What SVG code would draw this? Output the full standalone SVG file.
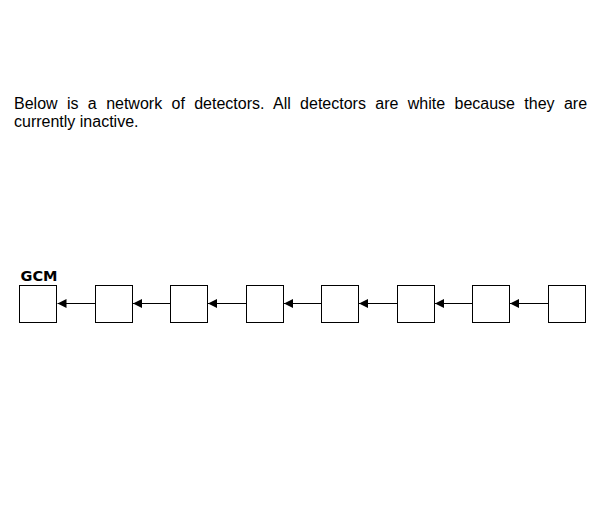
<svg xmlns="http://www.w3.org/2000/svg" width="605" height="530" viewBox="0 0 605 530">
<defs>
<style>
.t{font-family:"Liberation Sans",Arial,sans-serif;font-size:16px;fill:#000;}
.lbl{font-family:"DejaVu Sans",Verdana,sans-serif;font-size:14.5px;font-weight:bold;fill:#000;}
.box{fill:#fff;stroke:#000;stroke-width:1;}
.edge{stroke:#000;stroke-width:1;fill:none;marker-end:url(#ah);}
</style>
<marker id="ah" markerWidth="9" markerHeight="9" viewBox="0 0 9 9" refX="9" refY="4.5" orient="auto" markerUnits="userSpaceOnUse">
<path d="M0,0 L9,4.5 L0,9 Z" fill="#000"/>
</marker>
</defs>
<rect width="605" height="530" fill="#fff"/>
<text class="t" x="14" y="109" word-spacing="4.92">Below is a network of detectors. All detectors are white because they are</text>
<text class="t" x="14" y="127">currently inactive.</text>
<g id="connectors">
<line class="edge" x1="95.5" y1="303.5" x2="57.5" y2="303.5"/>
<line class="edge" x1="170.5" y1="303.5" x2="133" y2="303.5"/>
<line class="edge" x1="246.5" y1="303.5" x2="208" y2="303.5"/>
<line class="edge" x1="321.5" y1="303.5" x2="284" y2="303.5"/>
<line class="edge" x1="397.5" y1="303.5" x2="359" y2="303.5"/>
<line class="edge" x1="472.5" y1="303.5" x2="435" y2="303.5"/>
<line class="edge" x1="548.5" y1="303.5" x2="510" y2="303.5"/>
</g>
<g id="n0"><text class="lbl" x="20.5" y="281">GCM</text><rect class="box" x="19.5" y="285.5" width="37" height="37"/></g>
<g id="n1"><rect class="box" x="95.5" y="285.5" width="37" height="37"/></g>
<g id="n2"><rect class="box" x="170.5" y="285.5" width="37" height="37"/></g>
<g id="n3"><rect class="box" x="246.5" y="285.5" width="37" height="37"/></g>
<g id="n4"><rect class="box" x="321.5" y="285.5" width="37" height="37"/></g>
<g id="n5"><rect class="box" x="397.5" y="285.5" width="37" height="37"/></g>
<g id="n6"><rect class="box" x="472.5" y="285.5" width="37" height="37"/></g>
<g id="n7"><rect class="box" x="548.5" y="285.5" width="37" height="37"/></g>
</svg>
